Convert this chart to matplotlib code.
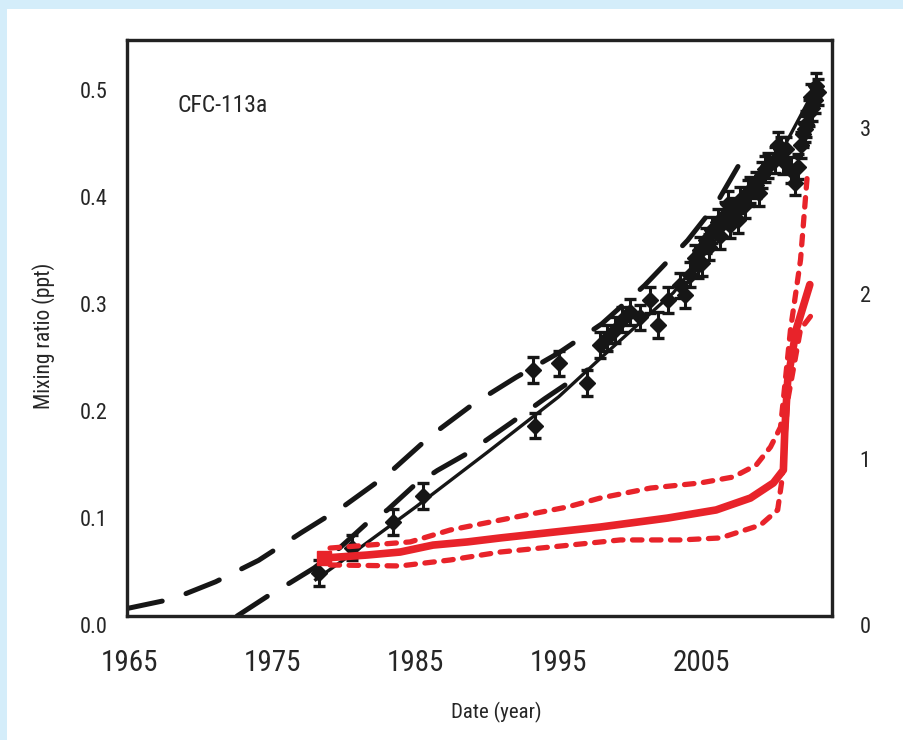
import matplotlib
matplotlib.use("Agg")
import matplotlib.pyplot as plt
import matplotlib.transforms as mtransforms
from matplotlib.patches import Rectangle

plt.rcParams['font.family'] = ['Roboto Condensed', 'DejaVu Sans']
plt.rcParams['font.stretch'] = 'condensed'

# ---------------- data ----------------
# Model fits (left axis, ppt)
upper_years = [1964.8, 1968, 1971, 1974, 1977, 1980, 1983, 1986, 1989, 1992, 1995, 1998, 2001, 2004, 2006, 2008]
upper_vals = [0.007, 0.016, 0.032, 0.052, 0.078, 0.103, 0.132, 0.168, 0.198, 0.223, 0.246, 0.273, 0.309, 0.351, 0.385, 0.431]

lower_years = [1972.5, 1974.8, 1976.2, 1977.9, 1979.7, 1981.6, 1983.0, 1984.8, 1986.5, 1988.6, 1991.6, 1994, 1997]
lower_vals = [0.000, 0.020, 0.031, 0.045, 0.064, 0.087, 0.099, 0.121, 0.136, 0.152, 0.180, 0.203, 0.230]

best_years = [1978.0, 1980, 1985, 1990, 1995, 1998, 2000, 2003, 2005, 2010, 2012.8]
best_vals = [0.034, 0.053, 0.102, 0.153, 0.205, 0.242, 0.266, 0.302, 0.335, 0.420, 0.490]

# Observations (left axis, ppt)
obs_years = [1978.2, 1980.5, 1983.4, 1985.5, 1993.3, 1993.2, 1995.0, 1997.0,
             1997.9, 1998.4, 1998.9, 1999.4, 2000.0, 2000.7, 2001.4, 2001.9, 2002.6,
             2003.5, 2003.8, 2004.2, 2004.5, 2004.7, 2004.9, 2005.0, 2005.3, 2005.5,
             2005.7, 2006.1, 2006.3, 2006.6, 2006.8, 2007.0, 2007.3, 2007.5, 2007.7,
             2008.0, 2008.2, 2008.4, 2008.8, 2009.0, 2009.2, 2009.4, 2009.6, 2010.1,
             2010.3, 2010.5, 2010.7, 2010.9, 2011.2, 2011.5, 2011.7, 2011.9, 2012.1,
             2012.2, 2012.3, 2012.5, 2012.6, 2012.7, 2012.9, 2013.0, 2013.1]
obs_vals = [0.040, 0.064, 0.088, 0.112, 0.178, 0.230, 0.236, 0.218,
            0.253, 0.260, 0.267, 0.277, 0.284, 0.279, 0.295, 0.272, 0.295,
            0.309, 0.300, 0.319, 0.335, 0.328, 0.342, 0.330, 0.351, 0.345,
            0.361, 0.368, 0.355, 0.375, 0.385, 0.365, 0.379, 0.370, 0.389,
            0.384, 0.395, 0.398, 0.403, 0.395, 0.412, 0.418, 0.421, 0.426,
            0.440, 0.436, 0.425, 0.436, 0.417, 0.405, 0.420, 0.440, 0.450,
            0.455, 0.460, 0.470, 0.485, 0.475, 0.482, 0.495, 0.490]
obs_err = 0.012

# Emissions (right axis)
em_years = [1978.6, 1981.6, 1983.9, 1986.2, 1988.6, 1990.9, 1997.9, 2002.6, 2006.0, 2008.4, 2010.0, 2010.7, 2010.8, 2011.0, 2011.6, 2012.55]
em_vals = [0.350, 0.368, 0.386, 0.428, 0.447, 0.471, 0.537, 0.591, 0.640, 0.712, 0.803, 0.881, 1.12, 1.42, 1.73, 2.00]

em_hi_years = [1979.0, 1984.6, 1987.4, 1990.9, 1995.6, 1997.9, 2001.4, 2004.9, 2007.2, 2008.8, 2009.8, 2010.5, 2011.2, 2011.9, 2012.4]
em_hi_vals = [0.41, 0.447, 0.519, 0.579, 0.658, 0.712, 0.772, 0.803, 0.839, 0.911, 1.02, 1.14, 1.73, 2.15, 2.69]

em_lo_years = [1979.0, 1983.9, 1987.4, 1990.9, 1995.1, 1999.3, 2003.5, 2006.3, 2009.1, 2010.3, 2010.6, 2011.0, 2011.9, 2012.7]
em_lo_vals = [0.308, 0.302, 0.338, 0.386, 0.422, 0.459, 0.459, 0.471, 0.549, 0.640, 0.821, 1.30, 1.73, 1.82]

left_ticks = [0.0, 0.1, 0.2, 0.3, 0.4, 0.5]
left_ticklabels = ['0.0', '0.1', '0.2', '0.3', '0.4', '0.5']
right_ticks = [0, 1, 2, 3]
right_ticklabels = ['0', '1', '2', '3']
x_ticks = [1965, 1975, 1985, 1995, 2005]
x_ticklabels = ['1965', '1975', '1985', '1995', '2005']

# ---------------- figure ----------------
W, H = 904, 740
fig = plt.figure(figsize=(W / 100, H / 100), dpi=100)
fig.patch.set_facecolor('#d4edfa')
panel = Rectangle((7 / W, 0), 1 - 7 / W, (H - 9) / H, transform=fig.transFigure,
                  facecolor='white', edgecolor='none')
panel.set_zorder(-10)
fig.add_artist(panel)

ax = fig.add_axes([127 / W, (H - 616) / H, (832 - 127) / W, (616 - 40) / H])
ax.set_facecolor('white')
ax2 = ax.twinx()

red = '#e8232a'
ink = '#161616'
ax.plot(upper_years, upper_vals, color=ink, lw=3.6, dashes=(7.2, 5.0), dash_capstyle='round', zorder=3)
ax.plot(lower_years, lower_vals, color=ink, lw=3.6, dashes=(7.2, 5.0), dash_capstyle='round', zorder=3)
ax.plot(best_years, best_vals, color=ink, lw=2.4, zorder=3)
ax.errorbar(obs_years, obs_vals, yerr=obs_err, fmt='D', color=ink, ms=8,
            ecolor=ink, elinewidth=2.2, capsize=4, capthick=2.4, zorder=4)

ax2.plot(em_years, em_vals, color=red, lw=5.5, solid_capstyle='round', zorder=5)
ax2.plot(em_hi_years, em_hi_vals, color=red, lw=3.8, dashes=(1.8, 1.8), dash_capstyle='round', zorder=5)
ax2.plot(em_lo_years, em_lo_vals, color=red, lw=3.8, dashes=(1.8, 1.8), dash_capstyle='round', zorder=5)
ax2.plot(em_years[:1], em_vals[:1], 's', color=red, ms=10, zorder=6)

ax.set_xlim(1964.8, 2014.1)
ax.set_ylim(0, 0.5383)
ax2.set_ylim(0, 3.476)

txt = '#262626'
ax.set_xticks(x_ticks)
ax.set_xticklabels(x_ticklabels, fontsize=21, color=txt)
ax.set_yticks(left_ticks)
ax.set_yticklabels(left_ticklabels, fontsize=16, color=txt)
ax2.set_yticks(right_ticks)
ax2.set_yticklabels(right_ticklabels, fontsize=16, color=txt)

ax.tick_params(axis='x', length=0, pad=24)
ax.tick_params(axis='y', length=0, pad=14)
ax2.tick_params(axis='y', length=0, pad=20)

off = mtransforms.ScaledTranslation(0, -9 / 100, fig.dpi_scale_trans)
for lab in ax.get_yticklabels() + ax2.get_yticklabels():
    lab.set_transform(lab.get_transform() + off)

for a in (ax, ax2):
    for s in a.spines.values():
        s.set_linewidth(2.3)
        s.set_color('#222222')

ax.set_xlabel('Date (year)', fontsize=15, color=txt)
ax.xaxis.set_label_coords((496 - 127) / 705, (616 - 702) / 576)
ax.set_ylabel('Mixing ratio (ppt)', fontsize=15.5, color=txt)
ax.yaxis.set_label_coords((55 - 127) / 705, (616 - 336) / 576)

ax.text(0.072, (616 - 106) / 576, 'CFC-113a', transform=ax.transAxes, fontsize=17, color=txt,
        ha='left', va='center')

fig.savefig('out.png', dpi=100, facecolor=fig.get_facecolor())
